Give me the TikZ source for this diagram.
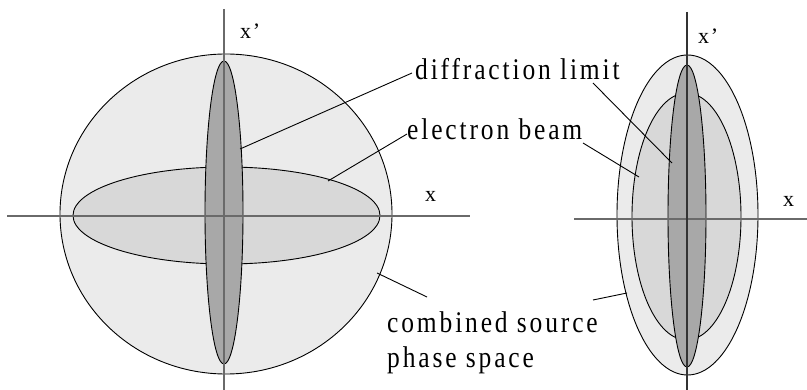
\documentclass[tikz,border=0pt]{standalone}
\usepackage{fontspec}
\setmainfont{Liberation Serif}[LetterSpace=8]
\newfontfamily\lblfont{Liberation Serif}[FakeStretch=0.85, LetterSpace=9.5]
\definecolor{outerfill}{HTML}{EBEBEB}
\definecolor{beamfill}{HTML}{D8D8D8}
\definecolor{difffill}{HTML}{A8A8A8}
\definecolor{axisgray}{HTML}{6A6A6A}
\tikzset{
  region/.style={draw=black, line width=0.9pt},
  axisline/.style={draw=axisgray, line width=1.4pt},
  vaxis/.style={draw=black!80, line width=1.2pt},
  leader/.style={draw=black, line width=0.9pt},
  lbl/.style={anchor=base west, inner sep=0pt, font=\lblfont\fontsize{30}{35}\selectfont},
  axlbl/.style={anchor=base west, inner sep=0pt, font=\fontsize{22}{26}\selectfont},
}
\begin{document}
\begin{tikzpicture}[x=1pt,y=-1pt]
\useasboundingbox (0,0) rectangle (807,390);
% ---- left figure
\path[region, fill=outerfill] (226,214) ellipse [x radius=166pt, y radius=160pt];
\path[region, fill=beamfill] (226.5,215.5) ellipse [x radius=153.5pt, y radius=48.5pt];
\path[region, fill=difffill] (224,212.5) ellipse [x radius=19pt, y radius=151.5pt];
\coordinate (Lxl) at (7,216);
\coordinate (Lxr) at (470,216);
\coordinate (Lyt) at (224,9);
\coordinate (Lyb) at (224,390);
\draw[axisline] (Lxl) -- (Lxr);
\draw[axisline] (Lyt) -- (Lyb);
\node[axlbl] (Lxp) at (240,39) {x’};
\node[axlbl] (Lx) at (425,202) {x};
% ---- right figure
\path[region, fill=outerfill] (687.5,215) ellipse [x radius=70.5pt, y radius=160pt];
\path[region, fill=beamfill] (686.5,216.5) ellipse [x radius=54.5pt, y radius=123.5pt];
\path[region, fill=difffill] (687,216) ellipse [x radius=19pt, y radius=151pt];
\coordinate (Rxl) at (574,219);
\coordinate (Rxr) at (807,219);
\coordinate (Ryt) at (687,12);
\coordinate (Ryb) at (687,390);
\draw[axisline] (Rxl) -- (Rxr);
\draw[vaxis] (Ryt) -- (Ryb);
\node[axlbl] (Rxp) at (698,44) {x’};
\node[axlbl] (Rx) at (783,207) {x};
% ---- labels
\node[lbl] (dl) at (415,80) {diffraction limit};
\node[lbl] (eb) at (407,140) {electron beam};
\node[lbl] (cs) at (387,333) {combined source};
\node[lbl] (ps) at (387,368) {phase space};
% ---- leader end points
\coordinate (dlA) at (412,73);
\coordinate (dlB) at (593,83);
\coordinate (ebA) at (407,134);
\coordinate (ebB) at (583,143);
\coordinate (csA) at (427,297);
\coordinate (csB) at (593,300);
\coordinate (LdiffP) at (240,149);
\coordinate (LbeamP) at (328,181);
\coordinate (LoutP) at (377,273);
\coordinate (RdiffP) at (672,163);
\coordinate (RbeamP) at (639,177);
\coordinate (RoutP) at (627,293);
\draw[leader] (dlA) -- (LdiffP);
\draw[leader] (dlB) -- (RdiffP);
\draw[leader] (ebA) -- (LbeamP);
\draw[leader] (ebB) -- (RbeamP);
\draw[leader] (csA) -- (LoutP);
\draw[leader] (csB) -- (RoutP);
\end{tikzpicture}
\end{document}
